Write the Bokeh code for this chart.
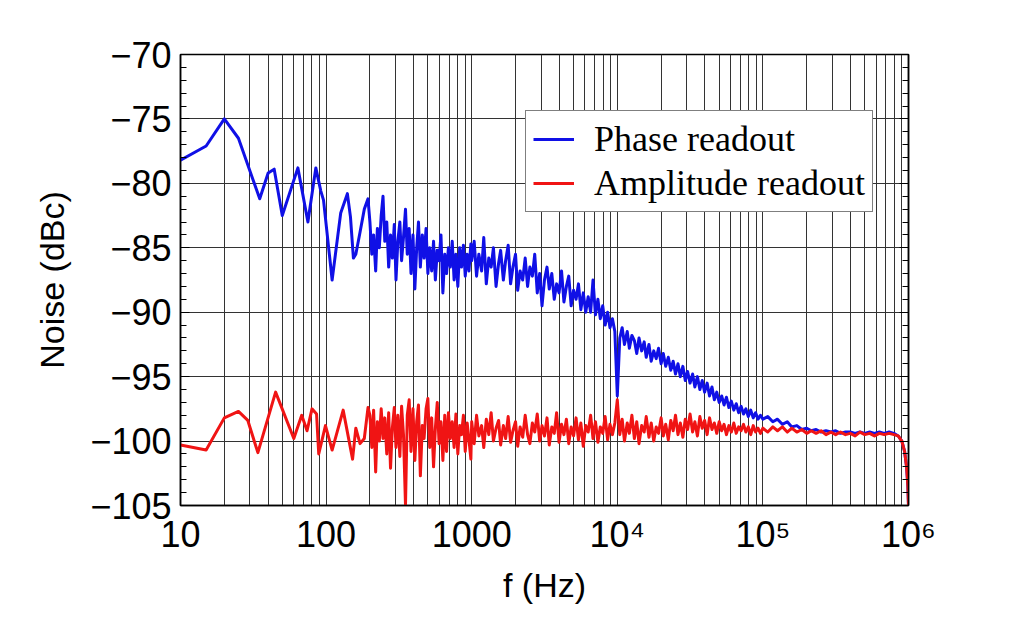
from bokeh.plotting import figure
from bokeh.models import Range1d, FixedTicker, LinearAxis, Legend, LegendItem, ColumnDataSource
from bokeh.embed import file_html
from bokeh.resources import INLINE

# ---------------- data ----------------
phase_f_lo = [10, 15, 20, 25, 35, 40, 44, 50, 64, 75, 85, 92, 96, 110, 126, 140, 147, 154]
phase_db_lo = [-78.2, -77.1, -75.0, -76.5, -81.2, -79.2, -78.9, -82.5, -78.8, -83.0, -78.8,
               -80.6, -81.3, -87.5, -82.3, -80.8, -82.6, -85.8]

amp_f_lo = [10, 15, 20, 25, 29, 34, 45, 60, 68, 74, 80, 86, 89, 99, 110, 131, 152]
amp_db_lo = [-100.3, -100.7, -98.2, -97.7, -98.4, -100.9, -96.2, -99.8, -98.0, -99.2, -97.5,
             -97.9, -101.0, -98.8, -100.7, -97.6, -101.4]

band1_f = [160, 171, 183, 194, 200, 206, 212, 219, 225, 232,
           239, 246, 253, 261, 269, 277, 285, 294, 302, 311,
           321, 330, 340, 351, 361, 372, 383, 395, 407, 419,
           431, 444, 458, 471, 486, 500, 515, 531, 547, 563,
           580, 597, 615, 634, 653, 672, 692, 713, 735, 757,
           779, 803, 827, 851, 877, 903, 931, 958, 987]
band1_phase = [-85.5, -83.8, -82.0, -81.2, -83.0, -85.5, -84.0, -86.8, -83.5, -85.0,
               -82.5, -81.0, -84.5, -83.0, -86.5, -84.0, -85.8, -83.2, -87.5, -84.5,
               -83.0, -86.0, -84.2, -82.0, -85.5, -83.5, -87.0, -84.0, -88.2, -85.0,
               -83.0, -86.5, -84.0, -85.8, -83.5, -87.0, -85.0, -86.8, -84.5, -87.5,
               -85.2, -86.0, -84.0, -88.5, -85.5, -87.0, -85.0, -86.5, -84.5, -87.5,
               -85.5, -88.0, -85.0, -86.5, -84.8, -87.2, -85.5, -86.8, -84.7]
band1_amp = [-99.0, -100.2, -99.8, -97.4, -98.0, -100.5, -97.6, -102.4, -98.5, -100.0,
             -97.5, -99.8, -98.2, -101.0, -97.8, -102.1, -99.0, -97.4, -100.5, -98.0,
             -101.2, -97.3, -99.5, -105.0, -98.0, -96.8, -100.8, -97.5, -101.5, -98.5,
             -97.2, -102.7, -98.8, -99.8, -97.5, -96.7, -100.5, -98.2, -102.0, -99.0,
             -97.0, -100.2, -98.5, -101.5, -98.0, -100.8, -97.8, -99.8, -98.5, -100.5,
             -97.9, -101.0, -98.8, -99.5, -98.0, -100.8, -98.6, -99.9, -101.4]

band2_f = [1000, 1040, 1080, 1120, 1170, 1210, 1260, 1310, 1360, 1410,
           1470, 1530, 1580, 1650, 1710, 1780, 1850, 1920, 2000, 2070,
           2150, 2240, 2330, 2420, 2510, 2610, 2710, 2820, 2930, 3040,
           3160, 3290, 3410, 3550, 3690, 3830, 3980, 4140, 4300, 4470,
           4640, 4820, 5010, 5210, 5410, 5620, 5840, 6070, 6310, 6560,
           6810, 7080, 7360, 7640, 7940, 8250, 8580, 8910, 9260, 9620]
band2_phase = [-86.0, -84.5, -87.2, -85.5, -86.8, -84.2, -87.8, -85.8, -86.5, -85.0,
               -88.0, -86.2, -85.2, -87.5, -86.0, -84.8, -87.8, -86.5, -85.5, -88.3,
               -86.8, -87.5, -85.8, -88.0, -86.5, -87.2, -85.5, -88.5, -87.0, -89.5,
               -87.5, -86.5, -88.2, -87.0, -89.0, -87.8, -88.5, -86.8, -89.2, -88.0,
               -87.2, -89.5, -88.3, -89.0, -87.8, -89.8, -88.5, -90.0, -88.8, -90.0,
               -87.5, -90.2, -89.0, -90.5, -89.5, -91.0, -90.0, -91.2, -90.5, -91.5]
band2_amp = [-98.5, -100.2, -98.0, -99.6, -98.8, -100.5, -98.3, -99.5, -97.8, -100.0,
             -99.0, -98.4, -100.3, -98.8, -99.8, -98.1, -100.1, -99.2, -98.5, -100.4,
             -98.9, -99.7, -98.0, -99.5, -100.2, -98.6, -99.3, -97.9, -100.0, -98.8,
             -99.6, -98.2, -100.3, -98.9, -99.4, -97.8, -100.1, -98.7, -99.5, -98.3,
             -100.2, -98.9, -99.6, -98.2, -99.9, -98.6, -100.4, -98.8, -99.3, -98.0,
             -99.8, -98.5, -100.1, -98.9, -99.4, -98.1, -99.9, -98.7, -99.5, -98.6]

band3_f = [1.00e4, 1.04e4, 1.08e4, 1.12e4, 1.17e4, 1.21e4, 1.26e4, 1.31e4, 1.36e4, 1.41e4,
           1.47e4, 1.53e4, 1.58e4, 1.65e4, 1.71e4, 1.78e4, 1.85e4, 1.92e4, 2.00e4, 2.07e4,
           2.15e4, 2.24e4, 2.33e4, 2.42e4, 2.51e4, 2.61e4, 2.71e4, 2.82e4, 2.93e4, 3.04e4,
           3.16e4, 3.29e4, 3.41e4, 3.55e4, 3.69e4, 3.83e4, 3.98e4, 4.14e4, 4.30e4, 4.47e4,
           4.64e4, 4.82e4, 5.01e4, 5.21e4, 5.41e4, 5.62e4, 5.84e4, 6.07e4, 6.31e4, 6.56e4,
           6.81e4, 7.08e4, 7.36e4, 7.64e4, 7.94e4, 8.25e4, 8.58e4, 8.91e4, 9.26e4, 9.62e4]
band3_phase = [-96.5, -92.0, -91.2, -92.5, -91.5, -92.8, -91.8, -92.2, -93.2, -92.0,
               -93.0, -92.3, -93.5, -92.5, -93.8, -93.0, -93.6, -92.8, -94.0, -93.2,
               -94.2, -93.5, -94.5, -93.8, -94.8, -94.0, -95.0, -94.2, -95.3, -94.6,
               -95.5, -94.8, -95.8, -95.0, -96.0, -95.3, -96.2, -95.5, -96.5, -95.8,
               -96.8, -96.2, -97.0, -96.5, -97.2, -96.6, -97.4, -96.9, -97.6, -97.1,
               -97.8, -97.3, -97.9, -97.5, -98.1, -97.6, -98.2, -97.8, -98.3, -98.0]
band3_amp = [-96.8, -99.5, -98.3, -100.0, -98.6, -99.4, -98.0, -99.8, -98.5, -100.2,
             -98.8, -99.3, -98.1, -99.7, -98.6, -100.0, -98.9, -99.4, -98.2, -99.6,
             -98.7, -99.9, -98.4, -99.2, -98.0, -99.5, -98.6, -99.7, -98.3, -99.1,
             -97.9, -99.3, -98.5, -99.6, -98.1, -99.0, -98.4, -99.5, -98.2, -99.1,
             -98.6, -99.4, -98.5, -99.2, -98.7, -99.5, -98.8, -99.3, -98.6, -99.4,
             -98.9, -99.2, -98.7, -99.3, -98.9, -99.5, -98.8, -99.3, -99.0, -99.4]

band4_f = [1.00e5, 1.08e5, 1.17e5, 1.26e5, 1.36e5, 1.47e5, 1.58e5, 1.71e5, 1.85e5, 2.00e5,
           2.15e5, 2.32e5, 2.51e5, 2.71e5, 2.93e5, 3.16e5, 3.41e5, 3.69e5, 3.98e5, 4.30e5,
           4.64e5, 5.01e5, 5.41e5, 5.84e5, 6.31e5, 6.81e5, 7.36e5, 7.94e5, 8.50e5, 9.00e5,
           9.40e5, 9.70e5, 9.90e5, 1.00e6]
band4_phase = [-98.3, -98.1, -98.5, -98.3, -98.7, -98.5, -98.9, -98.8, -99.1, -99.0,
               -99.2, -99.1, -99.3, -99.2, -99.3, -99.2, -99.4, -99.3, -99.3, -99.4,
               -99.3, -99.4, -99.3, -99.4, -99.3, -99.4, -99.3, -99.4, -99.6, -100.0,
               -100.8, -102.0, -103.5, -105.0]
band4_amp = [-99.0, -99.3, -98.9, -99.2, -98.9, -99.3, -99.0, -99.3, -99.1, -99.4,
             -99.2, -99.4, -99.2, -99.5, -99.3, -99.5, -99.3, -99.5, -99.4, -99.6,
             -99.3, -99.5, -99.4, -99.6, -99.4, -99.5, -99.4, -99.5, -99.6, -100.0,
             -100.8, -102.0, -103.5, -105.0]

x_major = [10, 100, 1000, 10000, 100000, 1000000]
x_labels = ["10", "100", "1000", "10\u2074", "10\u2075", "10\u2076"]
y_major = [-105, -100, -95, -90, -85, -80, -75, -70]
y_labels = ["\u2212105", "\u2212100", "\u221295", "\u221290", "\u221285", "\u221280", "\u221275", "\u221270"]
series_names = ["Phase readout", "Amplitude readout"]

# ---------------- assemble ----------------
dense_f = band1_f + band2_f + band3_f + band4_f
phase_src = ColumnDataSource(dict(f=phase_f_lo + dense_f,
                                  db=phase_db_lo + band1_phase + band2_phase + band3_phase + band4_phase))
amp_src = ColumnDataSource(dict(f=amp_f_lo + dense_f,
                                db=amp_db_lo + band1_amp + band2_amp + band3_amp + band4_amp))

x_minor = [m * d for d in [10, 100, 1000, 10000, 100000] for m in range(2, 10)]

SANS = "Liberation Sans"

p = figure(x_axis_type="log", x_range=Range1d(10, 1e6), y_range=Range1d(-105, -70),
           frame_width=728, frame_height=451,
           min_border_left=180, min_border_right=94, min_border_top=54, min_border_bottom=112,
           output_backend="svg", toolbar_location=None,
           background_fill_color="white", border_fill_color="white")
p.outline_line_color = "black"
p.outline_line_width = 1.5
p.outline_line_alpha = 1.0

# x axis
xa = p.xaxis[0]
xa.ticker = FixedTicker(ticks=x_major, minor_ticks=x_minor)
xa.major_label_overrides = {v: s for v, s in zip(x_major, x_labels)}
xa.major_tick_in = 0
xa.major_tick_out = 0
xa.minor_tick_in = 0
xa.minor_tick_out = 0
xa.axis_line_color = "black"
xa.axis_line_width = 1.5
xa.major_label_text_font = SANS
xa.major_label_text_font_size = "36px"
xa.major_label_text_color = "black"
xa.major_label_standoff = 8
xa.axis_label = "f (Hz)"
xa.axis_label_text_font = SANS
xa.axis_label_text_font_size = "34px"
xa.axis_label_text_font_style = "normal"
xa.axis_label_text_color = "black"
xa.axis_label_standoff = 8

p.xgrid.grid_line_color = "#333333"
p.xgrid.grid_line_width = 1
p.xgrid.minor_grid_line_color = "#333333"
p.xgrid.minor_grid_line_width = 1

# y axis
ya = p.yaxis[0]
ya.ticker = FixedTicker(ticks=y_major, minor_ticks=list(range(-105, -69)))
ya.major_label_overrides = {v: s for v, s in zip(y_major, y_labels)}
ya.major_tick_in = 9
ya.major_tick_out = 0
ya.minor_tick_in = 6
ya.minor_tick_out = 0
ya.major_tick_line_color = "black"
ya.minor_tick_line_color = "black"
ya.axis_line_color = "black"
ya.axis_line_width = 1.5
ya.major_label_text_font = SANS
ya.major_label_text_font_size = "36px"
ya.major_label_text_color = "black"
ya.major_label_standoff = 9
ya.axis_label = "Noise (dBc)"
ya.axis_label_text_font = SANS
ya.axis_label_text_font_size = "34px"
ya.axis_label_text_font_style = "normal"
ya.axis_label_text_color = "black"
ya.axis_label_standoff = 16

p.ygrid.grid_line_color = "#333333"
p.ygrid.grid_line_width = 1

ra = LinearAxis(ticker=FixedTicker(ticks=y_major, minor_ticks=list(range(-105, -69))))
ra.major_label_overrides = {v: "" for v in y_major}
ra.major_tick_in = 9
ra.major_tick_out = 0
ra.minor_tick_in = 6
ra.minor_tick_out = 0
ra.axis_line_color = "black"
ra.axis_line_width = 1.5
p.add_layout(ra, "right")

# lines
r_phase = p.line("f", "db", source=phase_src, line_color="#1010e6", line_width=3, line_join="round")
r_amp = p.line("f", "db", source=amp_src, line_color="#f01414", line_width=3, line_join="round")

legend = Legend(items=[LegendItem(label=series_names[0], renderers=[r_phase]),
                       LegendItem(label=series_names[1], renderers=[r_amp])],
                location=(345, 293))
legend.label_text_font = "Liberation Serif"
legend.label_text_font_size = "36px"
legend.label_text_color = "black"
legend.glyph_width = 41
legend.label_standoff = 20
legend.padding = 7
legend.spacing = 2
legend.margin = 0
legend.border_line_color = "black"
legend.border_line_width = 1.5
legend.background_fill_color = "white"
legend.background_fill_alpha = 1.0
p.add_layout(legend)

open("out.html", "w").write(file_html(p, INLINE))
